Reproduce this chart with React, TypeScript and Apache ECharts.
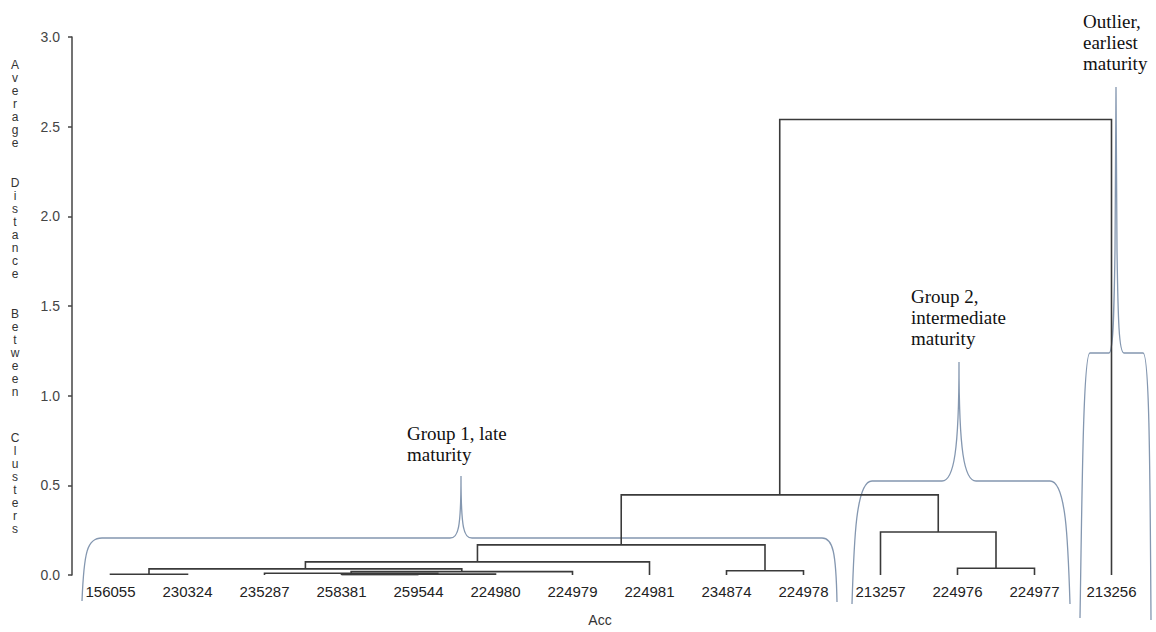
import React, { useEffect, useRef } from "react";
import * as echarts from "echarts";

// Leaf order of the dendrogram (x axis categories)
const accessions = [
  "156055", "230324", "235287", "258381", "259544", "224980", "224979",
  "224981", "234874", "224978", "213257", "224976", "224977", "213256",
];
// Agglomeration steps: leaves are 0..13, each merge creates node 14, 15, ...
const mergeLeft = [3, 14, 0, 2, 17, 16, 8, 11, 19, 22, 10, 23, 25];
const mergeRight = [4, 5, 1, 15, 6, 18, 9, 12, 7, 20, 21, 24, 13];
const mergeHeight = [0.002, 0.005, 0.004, 0.01, 0.019, 0.034, 0.024, 0.038, 0.073, 0.168, 0.24, 0.447, 2.54];

const yTicks = [0, 0.5, 1, 1.5, 2, 2.5, 3];
const yAxisTitleWords = ["Average", "Distance", "Between", "Clusters"];
const xAxisTitle = "Acc";
const groupNotes = [
  "Group 1, late\nmaturity",
  "Group 2,\nintermediate\nmaturity",
  "Outlier,\nearliest\nmaturity",
];

const braceD =
  "M82 601 C84 552 87 538 102 538 L450 538 C458 538 461 530 461 476 C461 530 464 538 472 538 L822 538 C833 538 836 552 837 602 " +
  "M852 604 C854 540 856 481 872 481 L942 481 C954 481 959 450 959 362 C959 450 964 481 976 481 L1050 481 C1066 481 1068 540 1070 604 " +
  "M1080 618 C1082 500 1083 353 1090 353 L1109 353 C1113 353 1114 320 1115 250 L1116 87 L1117 250 C1118 320 1119 353 1124 353 L1143 353 C1149 353 1150 450 1151 620";

echarts.graphic.registerShape("brace", echarts.graphic.extendPath(braceD, {}));

function buildSegments() {
  const nodeX: number[] = accessions.map((_, i) => i);
  const nodeH: number[] = accessions.map(() => 0);
  const segs: { coords: number[][] }[] = [];
  mergeLeft.forEach((l, k) => {
    const r = mergeRight[k];
    const h = mergeHeight[k];
    segs.push({
      coords: [
        [nodeX[l], nodeH[l]],
        [nodeX[l], h],
        [nodeX[r], h],
        [nodeX[r], nodeH[r]],
      ],
    });
    nodeX.push((nodeX[l] + nodeX[r]) / 2);
    nodeH.push(h);
  });
  return segs;
}

export default function App() {
  const ref = useRef<HTMLDivElement>(null);
  useEffect(() => {
    document.body.style.margin = "0";
    if (!ref.current) return;
    const chart = echarts.init(ref.current, undefined, { renderer: "svg" });
    const wordTops = [65, 183, 314, 438];
    const letterStep = 13;
    const yTitle = yAxisTitleWords.map((w, i) => ({
      type: "text",
      x: 15,
      y: wordTops[i] - letterStep / 2,
      silent: true,
      style: {
        text: w.split("").join("\n"),
        fontSize: 12,
        fontFamily: "Liberation Sans, Arial, sans-serif",
        fill: "#333",
        align: "center",
        verticalAlign: "top",
        lineHeight: letterStep,
      },
    }));
    const notePos = [
      [407, 423],
      [911, 286],
      [1083, 11],
    ];
    const notes = groupNotes.map((t, i) => ({
      type: "text",
      x: notePos[i][0],
      y: notePos[i][1],
      silent: true,
      style: {
        text: t,
        fontSize: 19,
        fontFamily: "Liberation Serif, Times New Roman, serif",
        fill: "#111",
        align: "left",
        verticalAlign: "top",
        lineHeight: 21,
      },
    }));
    chart.setOption({
      animation: false,
      backgroundColor: "#fff",
      grid: { left: 72, right: 6, top: 37, bottom: 57, containLabel: false },
      xAxis: [
        {
          type: "category",
          data: accessions,
          boundaryGap: true,
          axisLine: { show: false },
          axisTick: { show: false },
          axisLabel: {
            fontSize: 15,
            color: "#222",
            fontFamily: "Liberation Sans, Arial, sans-serif",
            margin: 9,
          },
        },
        {
          type: "value",
          min: -0.5,
          max: accessions.length - 0.5,
          show: false,
        },
      ],
      yAxis: {
        type: "value",
        min: yTicks[0],
        max: yTicks[yTicks.length - 1],
        interval: yTicks[1] - yTicks[0],
        axisLine: { show: true, onZero: false, lineStyle: { color: "#444", width: 1.5 } },
        axisTick: { show: true, length: 4, lineStyle: { color: "#444", width: 1.5 } },
        splitLine: { show: false },
        axisLabel: {
          formatter: (v: number) => v.toFixed(1),
          fontSize: 14,
          color: "#444",
          fontFamily: "Liberation Sans, Arial, sans-serif",
          margin: 12,
        },
      },
      series: [
        {
          type: "lines",
          coordinateSystem: "cartesian2d",
          xAxisIndex: 1,
          yAxisIndex: 0,
          polyline: true,
          silent: true,
          data: buildSegments(),
          lineStyle: { color: "#3a3a3a", width: 1.6, opacity: 1 },
        },
      ],
      graphic: [
        {
          type: "brace",
          x: 0,
          y: 0,
          silent: true,
          style: { fill: "none", stroke: "#8497b0", lineWidth: 1.3 },
        },
        ...notes,
        ...yTitle,
        {
          type: "text",
          x: 600,
          y: 620,
          silent: true,
          style: {
            text: xAxisTitle,
            fontSize: 14,
            fontFamily: "Liberation Sans, Arial, sans-serif",
            fill: "#333",
            align: "center",
            verticalAlign: "middle",
          },
        },
      ],
    });
    return () => chart.dispose();
  }, []);
  return <div ref={ref} style={{ width: 1156, height: 632 }} />;
}
